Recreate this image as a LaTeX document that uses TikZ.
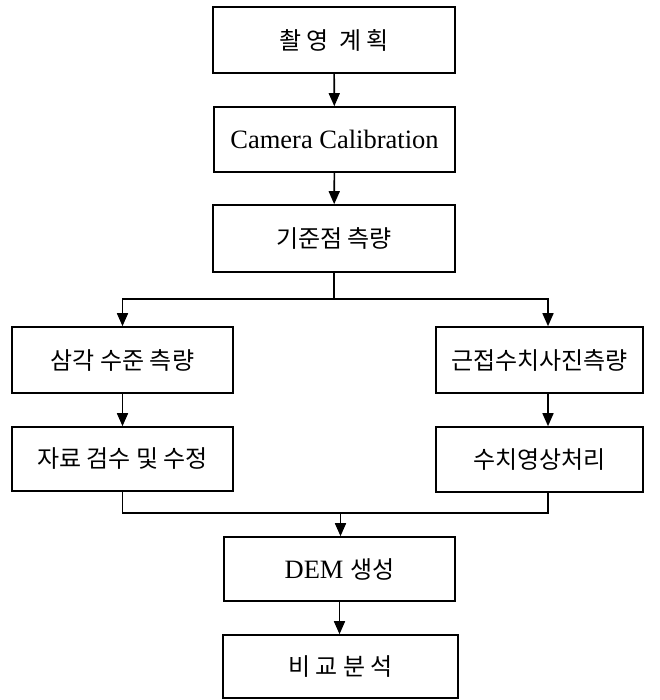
\documentclass[tikz,border=0pt]{standalone}
\usepackage{fontspec}
\setmainfont{Liberation Serif}
\newfontfamily\kr{Noto Sans CJK KR}
\newfontfamily\krsp[LetterSpace=22]{Noto Sans CJK KR}
\usetikzlibrary{arrows.meta}
\tikzset{
  box/.style={draw=black, line width=1.6pt, rectangle, inner sep=0pt, font=\fontsize{24}{28}\selectfont\kr},
  link/.style={line width=1.6pt},
  arr/.style={line width=1.6pt, -{Triangle[length=13pt,width=11pt]}}
}
\begin{document}
\begin{tikzpicture}[x=1pt,y=-1pt]
\useasboundingbox (0,0) rectangle (659,700);
\node[box, minimum width=242pt, minimum height=66pt, font=\fontsize{24}{28}\selectfont\krsp] (b1) at (334,40) {촬영 계획};
\node[box, minimum width=241pt, minimum height=65pt, font=\fontsize{26.5}{30}\selectfont] (b2) at (334.5,139.5) {Camera Calibration};
\node[box, minimum width=242pt, minimum height=67pt] (b3) at (334,238.5) {기준점 측량};
\node[box, minimum width=221pt, minimum height=66pt] (l1) at (122.5,360) {삼각 수준 측량};
\node[box, minimum width=221pt, minimum height=64pt] (l2) at (122.5,459) {자료 검수 및 수정};
\node[box, minimum width=207pt, minimum height=66pt] (r1) at (539.5,360) {근접수치사진측량};
\node[box, minimum width=207pt, minimum height=65pt] (r2) at (539.5,459.5) {수치영상처리};
\node[box, minimum width=231pt, minimum height=64pt] (d) at (339.5,569) {\fontsize{26.5}{30}\selectfont\rmfamily DEM \kr\fontsize{24}{28}\selectfont 생성};
\node[box, minimum width=235pt, minimum height=63pt, font=\fontsize{24}{28}\selectfont\krsp] (e) at (340.5,666.5) {비교분석};

\coordinate (split) at (334,299);
\coordinate (merge) at (340.5,513);

\draw[arr] (b1) -- (b2);
\draw[arr] (b2) -- (b3);
\draw[link] (b3.south) -- (split);
\draw[arr] (split) -| (l1.north);
\draw[arr] (split) -| ([xshift=8.5pt]r1.north);
\draw[arr] (l1) -- (l2);
\draw[arr] ([xshift=8.5pt]r1.south) -- ([xshift=8.5pt]r2.north);
\draw[link] (l2.south) |- (merge);
\draw[link] ([xshift=8.5pt]r2.south) |- (merge);
\draw[arr] (merge) -- (merge |- d.north);
\draw[arr] (d) -- (d |- e.north);
\end{tikzpicture}
\end{document}
